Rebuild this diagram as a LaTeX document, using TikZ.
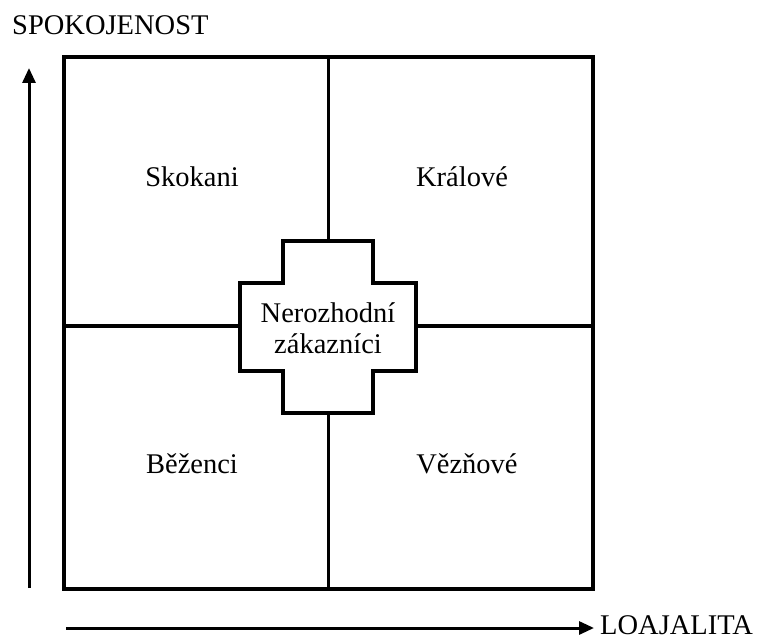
\documentclass[tikz,border=0pt]{standalone}
\usepackage{fontspec}
\setmainfont{Liberation Serif}
\usetikzlibrary{arrows.meta}
\begin{document}
\begin{tikzpicture}[x=1pt,y=-1pt,
  frame/.style={line width=3.2pt,line join=miter},
  axis/.style={line width=3pt,-{Triangle[length=15pt,width=13pt]}},
  label/.style={inner sep=0pt,anchor=base,font=\fontsize{28.5}{31}\selectfont},
  axislabel/.style={inner sep=0pt,anchor=base west,font=\fontsize{28.5}{31}\selectfont}]
\useasboundingbox (0,0) rectangle (760,639);

% outer square
\draw[frame] (64,57) rectangle (593,589);

% central cross
\draw[frame] (283,241) -- (373,241) -- (373,283) -- (416,283) -- (416,371)
  -- (373,371) -- (373,413) -- (283,413) -- (283,371) -- (240,371)
  -- (240,283) -- (283,283) -- cycle;

% quadrant dividers, meeting the cross
\coordinate (topmid) at (328.5,57);
\coordinate (crosstop) at (328.5,241);
\coordinate (crossbot) at (328.5,413);
\coordinate (botmid) at (328.5,589);
\coordinate (leftmid) at (64,326);
\coordinate (crossleft) at (240,326);
\coordinate (crossright) at (416,326);
\coordinate (rightmid) at (593,326);
\draw[frame] (topmid) -- (crosstop);
\draw[frame] (crossbot) -- (botmid);
\draw[frame] (leftmid) -- (crossleft);
\draw[frame] (crossright) -- (rightmid);

% quadrant labels
\node[label] (skokani) at (192,186) {Skokani};
\node[label] (kralove) at (462,186) {Králové};
\node[label] (bezenci) at (192,473) {Běženci};
\node[label] (veznove) at (467,473) {Vězňové};
\node[label] (nerozhodni) at (328,322) {Nerozhodní};
\node[label] (zakaznici) at (328,353) {zákazníci};

% axes
\coordinate (ybot) at (29,588);
\coordinate (ytop) at (29,68);
\coordinate (xleft) at (66,628);
\coordinate (xright) at (594,628);
\draw[axis] (ybot) -- (ytop);
\draw[axis] (xleft) -- (xright);
\node[axislabel] (spokojenost) at (12,35) {SPOKOJENOST};
\node[axislabel] (loajalita) at (600,634) {LOAJALITA};
\end{tikzpicture}
\end{document}
